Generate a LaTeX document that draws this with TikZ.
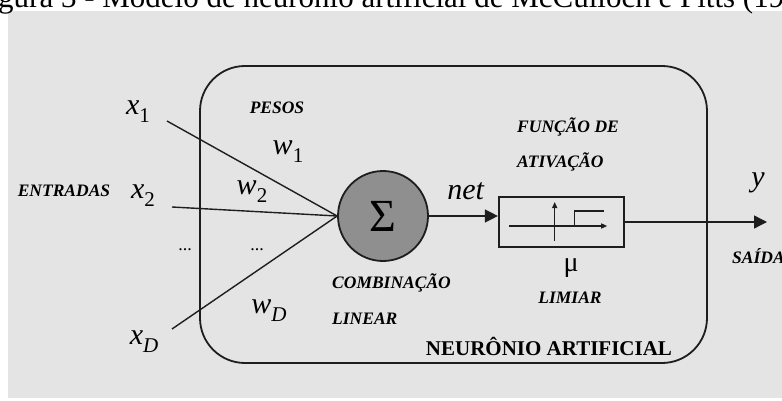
\documentclass[tikz,border=0pt]{standalone}
\usepackage{fontspec}
\setmainfont{Liberation Serif}
\usetikzlibrary{positioning,arrows.meta}
\definecolor{panel}{HTML}{E4E4E4}
\definecolor{ink}{HTML}{1E1E1E}
\definecolor{sumfill}{HTML}{8F8F8F}
\newcommand{\lblfont}{\bfseries\itshape\fontsize{17.5}{18}\selectfont}
\newcommand{\varsub}[2]{\textit{#1}\raisebox{-8pt}{\fontsize{21}{21}\selectfont #2}}

\begin{document}
\begin{tikzpicture}[x=1pt,y=-1pt,>={Triangle[length=13pt,width=13pt]},
  lbl/.style={font=\lblfont,inner sep=0pt},
  var/.style={font=\fontsize{30}{30}\selectfont,inner sep=0pt},
  wire/.style={ink,line width=1.4pt},
  node distance=69pt]
\useasboundingbox (0,0) rectangle (782,401);
\fill[panel] (8,11) rectangle (782,398);
\node[anchor=base west,inner sep=0pt,font=\fontsize{31}{31}\selectfont] (cap) at (-2,8)
  {gura 3 - Modelo de neurônio artificial de McCulloch e Pitts (19};

% neuron body
\draw[ink,line width=1.8pt,rounded corners=45pt] (200,66) rectangle (707,363);
\node[circle,draw=ink,line width=1.8pt,fill=sumfill,minimum size=90pt,inner sep=0pt,
  font=\fontsize{46}{46}\selectfont] (sum) at (383,216) {Σ};
\node[draw=ink,line width=1.6pt,minimum width=125pt,minimum height=50pt,inner sep=0pt,
  right=of sum,yshift=-6pt] (act) {};
\begin{scope}[shift={(act.center)},ink,line width=1.2pt]
  \draw[-{Triangle[length=6pt,width=5pt]}] (-52,4) -- (46,4);
  \draw[-{Triangle[length=6pt,width=5pt]}] (-6.5,19) -- (-6.5,-20);
  \draw (13.5,4) -- (13.5,-11) -- (42.5,-11);
\end{scope}

% inputs
\node[lbl] (entradas) at (64,191) {ENTRADAS};
\node[var] (x1) at (138,112) {\varsub{x}{1}};
\node[var] (x2) at (143,196) {\varsub{x}{2}};
\node[var] (xD) at (144,342) {\varsub{x}{\textit{D}}};
\coordinate (in1) at (167,121);
\coordinate (in2) at (172,207);
\coordinate (inD) at (172,329);
\draw[wire] (in1) -- (sum.west);
\draw[wire] (in2) -- (sum.west);
\draw[wire] (inD) -- (sum.west);
\node[font=\fontsize{18}{18}\selectfont] (dots1) at (185,250) {...};
\node[font=\fontsize{18}{18}\selectfont] (dots2) at (257,250) {...};

% weights
\node[lbl] (pesos) at (277,108) {PESOS};
\node[var] (w1) at (288,152) {\varsub{w}{1}};
\node[var] (w2) at (252,192) {\varsub{w}{2}};
\node[var] (wD) at (269,311) {\varsub{w}{\textit{D}}};
\node[lbl,anchor=west] (comb) at (332,283) {COMBINAÇÃO};
\node[lbl,anchor=west] (linear) at (332,319) {LINEAR};

% activation
\draw[wire,->] (sum.east) -- (sum.east -| act.west);
\node[var] (net) at (466,191) {\textit{net}};
\node[lbl,anchor=west] (funcao) at (517,127) {FUNÇÃO DE};
\node[lbl,anchor=west] (ativ) at (517,162) {ATIVAÇÃO};
\node[var,font=\fontsize{28}{28}\selectfont] (mu) at (571,268) {μ};
\node[lbl] (limiar) at (570,298) {LIMIAR};
\node[inner sep=0pt,font=\bfseries\fontsize{21}{21}\selectfont] (neuron) at (549,346) {NEURÔNIO ARTIFICIAL};

% output
\coordinate (out) at (767,222);
\draw[wire,->] (act.east |- out) -- (out);
\node[var] (yout) at (758,183) {\textit{y}};
\node[lbl,anchor=west] (saida) at (732,256) {SAÍDA};
\end{tikzpicture}
\end{document}
